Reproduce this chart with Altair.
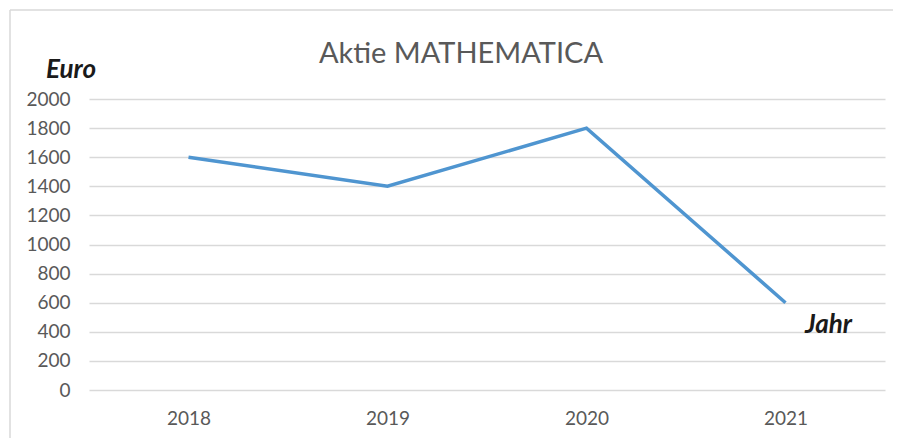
import altair as alt
import pandas as pd

years = ["2018", "2019", "2020", "2021"]
values = [1600, 1400, 1800, 600]
y_ticks = [0, 200, 400, 600, 800, 1000, 1200, 1400, 1600, 1800, 2000]
title_text = "Aktie MATHEMATICA"
y_title = "Euro"
x_title = "Jahr"

df = pd.DataFrame({"Jahr": years, "Euro": values})

FONT = "Lato"
GREY = "#595959"

base = alt.Chart(df)

line = base.mark_line(color="#4F95D0", strokeWidth=3.5).encode(
    x=alt.X("Jahr:N", sort=years,
            scale=alt.Scale(paddingInner=0, paddingOuter=0.5, domain=years),
            axis=alt.Axis(title=None, labelAngle=0, domain=False, ticks=False, grid=False,
                          labelFont=FONT, labelFontSize=19, labelColor=GREY, labelPadding=19)),
    y=alt.Y("Euro:Q", scale=alt.Scale(domain=[0, 2000], nice=False),
            axis=alt.Axis(title=None, values=y_ticks, format="d", domain=False, ticks=False,
                          grid=True, gridColor="#D9D9D9", gridWidth=1.5,
                          labelFont=FONT, labelFontSize=19, labelColor=GREY, labelPadding=19)),
)

dummy = pd.DataFrame({"a": [0]})
top_rule = alt.Chart(dummy).mark_rule(color="#D9D9D9", strokeWidth=1.5, clip=False).encode(
    x=alt.value(-79), x2=alt.value(810), y=alt.value(-89))
left_rule = alt.Chart(dummy).mark_rule(color="#D9D9D9", strokeWidth=1.5, clip=False).encode(
    x=alt.value(-79), y=alt.value(-89), y2=alt.value(339))

ttl = alt.Chart(pd.DataFrame({"t": [title_text]})).mark_text(
    font=FONT, fontSize=29, color=GREY, align="center", baseline="alphabetic"
).encode(text="t:N", x=alt.value(372), y=alt.value(-36))

ytl = alt.Chart(pd.DataFrame({"t": [y_title]})).mark_text(
    font=FONT, fontSize=26, fontWeight="bold", fontStyle="italic", color="#1a1a1a",
    align="left", baseline="alphabetic"
).encode(text="t:N", x=alt.value(-43), y=alt.value(-21))

xtl = alt.Chart(pd.DataFrame({"t": [x_title]})).mark_text(
    font=FONT, fontSize=26, fontWeight="bold", fontStyle="italic", color="#1a1a1a",
    align="left", baseline="alphabetic"
).encode(text="t:N", x=alt.value(716), y=alt.value(234))

chart = alt.layer(top_rule, left_rule, line, ttl, ytl, xtl).properties(
    width=796, height=291,
    autosize=alt.AutoSizeParams(type="none"),
    padding={"left": 81, "top": 91, "right": 8, "bottom": 48},
).configure_view(stroke=None)

chart.save("out.html", embed_options={"renderer": "svg", "actions": False})
